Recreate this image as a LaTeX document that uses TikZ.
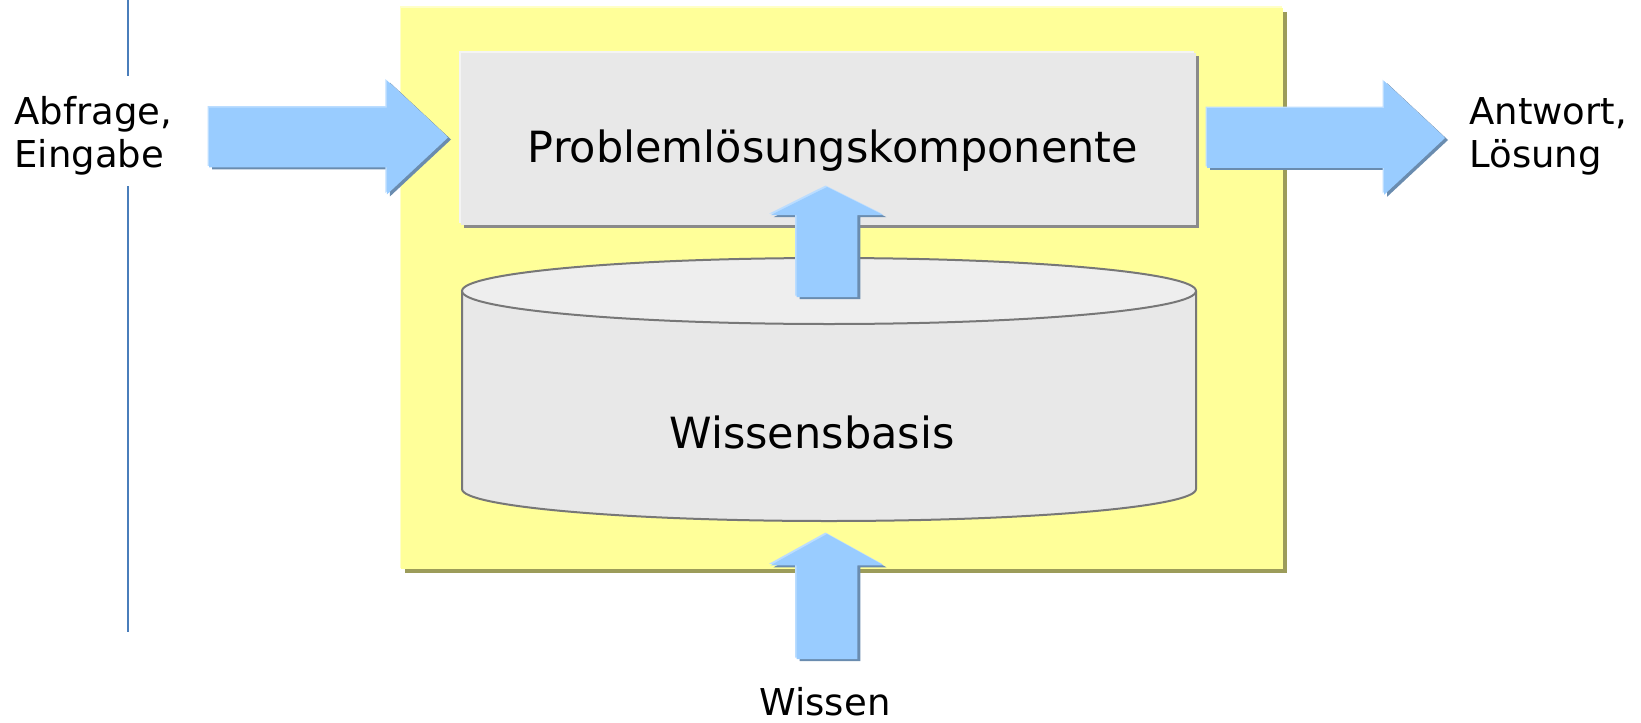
\documentclass[tikz,border=0pt]{standalone}
\usepackage{fontspec}
\setmainfont{DejaVu Sans}
\usetikzlibrary{shapes.arrows,shadows,positioning}

\definecolor{sysyellow}{HTML}{FFFF99}
\definecolor{sysshadow}{HTML}{9C9C5A}
\definecolor{syslight}{HTML}{FFFFC8}
\definecolor{boxgray}{HTML}{E8E8E8}
\definecolor{boxshadow}{HTML}{8A8A8A}
\definecolor{boxlight}{HTML}{F4F4F4}
\definecolor{cyltop}{HTML}{EEEEEE}
\definecolor{cylline}{HTML}{777777}
\definecolor{arrowblue}{HTML}{99CCFF}
\definecolor{arrowshadow}{HTML}{6A8CAF}
\definecolor{arrowlight}{HTML}{BBDDFF}
\definecolor{sepblue}{HTML}{4A7EBB}

\begin{document}
\begin{tikzpicture}[
    x=0.5pt, y=-0.5pt,
    label text/.style={font=\fontsize{18.5}{21}\selectfont, align=left, inner sep=0pt},
    box text/.style={font=\fontsize{21.5}{26}\selectfont, inner sep=0pt},
    sys box/.style={rectangle, fill=sysyellow, inner sep=0pt,
        drop shadow={shadow xshift=2pt, shadow yshift=-2pt, fill=sysshadow, opacity=1},
        drop shadow={shadow xshift=-0.75pt, shadow yshift=0.75pt, fill=syslight, opacity=1}},
    gray box/.style={rectangle, fill=boxgray, inner sep=0pt,
        drop shadow={shadow xshift=1.5pt, shadow yshift=-1.5pt, fill=boxshadow, opacity=1},
        drop shadow={shadow xshift=-1pt, shadow yshift=1pt, fill=boxlight, opacity=1}},
    fat arrow/.style={single arrow, fill=arrowblue, draw=none,
        inner xsep=0pt, inner ysep=14.75pt, outer sep=0pt,
        single arrow head extend=13.5pt, single arrow tip angle=86,
        drop shadow={shadow xshift=1.5pt, shadow yshift=-1pt, fill=arrowshadow, opacity=1},
        drop shadow={shadow xshift=-0.75pt, shadow yshift=0.75pt, fill=arrowlight, opacity=1}},
    up arrow/.style={fat arrow, shape border rotate=90, inner xsep=15pt, inner ysep=0pt,
        single arrow head extend=13pt},
    sepline/.style={sepblue, line width=0.85pt},
]
\useasboundingbox (0,0) rectangle (1641,722);

% === system frame ===
\node[sys box, minimum width=441pt, minimum height=280.5pt] (system) at (842,288.5) {};

% === problem solving component ===
\node[gray box, minimum width=367.5pt, minimum height=86pt] (solver) at (828.5,139) {};
\node[box text, anchor=base] (solvertext) at (833,162) {Problemlösungskomponente};

% === knowledge base (cylinder) ===
\fill[boxgray] (462,291) -- (462,489) arc[start angle=180, end angle=0, x radius=367, y radius=32] -- (1196,291) -- cycle;
\draw[cylline, line width=1pt] (462,291) -- (462,489) arc[start angle=180, end angle=0, x radius=367, y radius=32] -- (1196,291);
\filldraw[fill=cyltop, draw=cylline, line width=1pt] (829,291) ellipse[x radius=367, y radius=33];
\node[box text, anchor=base] (kbtext) at (812,448) {Wissensbasis};

% === block arrows ===
\node[fat arrow, minimum height=119.5pt, anchor=tail] (inarrow) at (209,137.5) {};
\node[fat arrow, minimum height=119pt, anchor=tail] (outarrow) at (1207,138) {};
\node[up arrow, minimum height=55pt, single arrow tip angle=127, anchor=tail] (kbarrow) at (827,297) {};
\node[up arrow, minimum height=62.5pt, single arrow tip angle=122, anchor=tail] (learnarrow) at (827,659) {};

% === labels ===
\node[label text, anchor=base west] (input) at (14,167) {Abfrage,\\Eingabe};
\node[label text, anchor=base west] (output) at (1469,167) {Antwort,\\Lösung};
\node[label text, anchor=base] (knowledge) at (825,715) {Wissen};

% === separator line ===
\draw[sepline] (128,0) -- (128,76);
\draw[sepline] (128,186) -- (128,632);

\end{tikzpicture}
\end{document}
